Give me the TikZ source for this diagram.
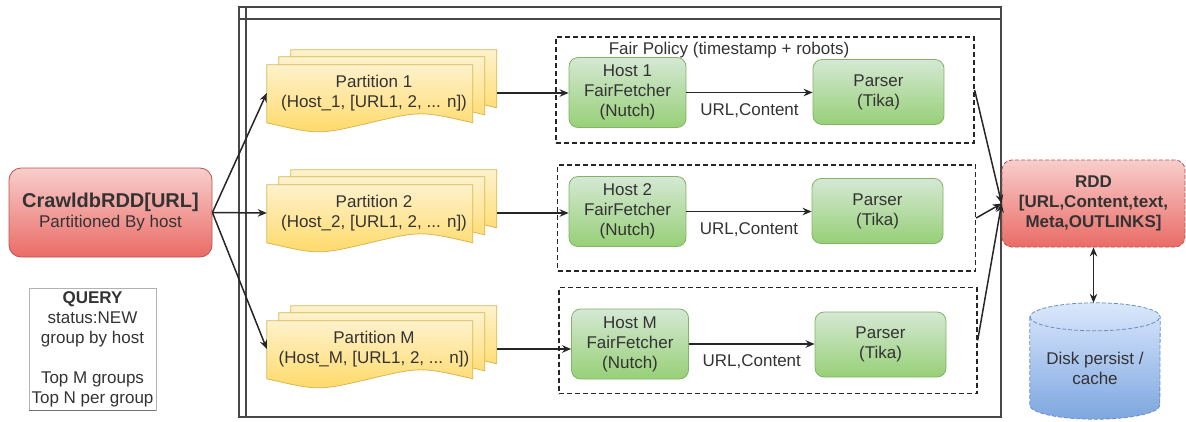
\documentclass[tikz,border=0pt]{standalone}
\usepackage{fontspec}
\setmainfont{Liberation Sans}
\usetikzlibrary{arrows.meta,backgrounds}

\definecolor{redtop}{HTML}{F8CECC}
\definecolor{redbot}{HTML}{EA6B66}
\definecolor{redline}{HTML}{B85450}
\definecolor{yeltop}{HTML}{FFF2CC}
\definecolor{yelbot}{HTML}{FFD966}
\definecolor{yelline}{HTML}{D6B656}
\definecolor{grntop}{HTML}{D5E8D4}
\definecolor{grnbot}{HTML}{97D077}
\definecolor{grnline}{HTML}{82B366}
\definecolor{blutop}{HTML}{DAE8FC}
\definecolor{blubot}{HTML}{7EA6E0}
\definecolor{bluline}{HTML}{6C8EBF}
\definecolor{ink}{HTML}{262626}
\definecolor{txt}{HTML}{333333}

\tikzset{
  every node/.style={font=\fontsize{17}{20}\selectfont, align=center, inner sep=0pt, text=txt},
  frame/.style={draw=ink!85, line width=1.3pt},
  redbox/.style={draw=redline, top color=redtop, bottom color=redbot, line width=0.8pt},
  hostbox/.style={draw=grnline, top color=grntop, bottom color=grnbot, line width=0.8pt,
    rounded corners=9pt, minimum width=117pt, minimum height=70pt},
  parserbox/.style={draw=grnline, top color=grntop, bottom color=grnbot, line width=0.8pt,
    rounded corners=9pt, minimum width=131pt, minimum height=65pt},
  policy/.style={draw=ink, dash pattern=on 5pt off 3pt, line width=1.3pt,
    minimum width=418pt, minimum height=106pt},
  partnode/.style={minimum width=206pt, minimum height=56pt},
  docfill/.style={draw=yelline, top color=yeltop, bottom color=yelbot, line width=0.8pt},
  diskfill/.style={top color=blutop, bottom color=blubot, draw=bluline,
    dash pattern=on 4pt off 2pt, line width=0.8pt},
  diskline/.style={draw=bluline, dash pattern=on 4pt off 2pt, line width=0.8pt},
  link/.style={draw=ink, line width=1.5pt, ->},
  flowlabel/.style={below=10pt},
  pics/docpage/.style={code={
    \path[docfill] (0,0) -- (206,0) -- (206,58)
      .. controls (154,46) .. (103,58)
      .. controls (52,70) .. (0,58) -- cycle;
  }},
}

\begin{document}
\begin{tikzpicture}[x=1pt, y=-1pt, >={Stealth[length=9pt,width=7.5pt]}]
\useasboundingbox (0,0) rectangle (1186,421);

% container frame with its header strips
\draw[frame] (239,7) rectangle (1001,417);
\draw[frame] (246,7) -- (246,417);
\draw[frame] (239,19) -- (1001,19);

% source RDD and query note
\node[redbox, rounded corners=12pt, minimum width=203pt, minimum height=89pt] (crawl) at (110.5,212.5)
  {{\fontsize{20}{22}\selectfont\bfseries CrawldbRDD[URL]}\\Partitioned By host};
\node[draw=black!30, line width=0.6pt, minimum width=127pt, minimum height=122pt] (query) at (92.5,349)
  {{\bfseries QUERY}\\status:NEW\\group by host\\[20pt]Top M groups\\Top N per group};
\draw[black!55, line width=0.8pt] (query.south west) -- (query.south east);

% partitions (stacked pages)
\node[partnode] (p1) at (370,93) {\hspace*{8pt}Partition 1\\\hspace*{8pt}(Host\_1, [URL1, 2, ... n])};
\node[partnode] (p2) at (370,213) {\hspace*{8pt}Partition 2\\\hspace*{8pt}(Host\_2, [URL1, 2, ... n])};
\node[partnode] (pM) at (370,349) {\hspace*{8pt}Partition M\\\hspace*{8pt}(Host\_M, [URL1, 2, ... n])};
\begin{scope}[on background layer]
  \foreach \p in {p1,p2,pM}{
    \pic at ([xshift=24pt,yshift=15pt]\p.north west) {docpage};
    \pic at ([xshift=12pt,yshift=8pt]\p.north west) {docpage};
    \pic at (\p.north west) {docpage};
  }
\end{scope}

% fair policy groups
\node[policy] (g1) at (765,90) {};
\node[policy] (g2) at (766.5,218) {};
\node[policy] (gM) at (768,340.5) {};
\node (fp) at (729,50) {Fair Policy (timestamp + robots)};

% fetchers and parsers
\node[hostbox] (h1) at (627.5,92.5) {Host 1\\FairFetcher\\(Nutch)};
\node[parserbox] (s1) at (878.5,92) {Parser\\(Tika)};
\node[hostbox] (h2) at (627.5,211.5) {Host 2\\FairFetcher\\(Nutch)};
\node[parserbox] (s2) at (877.5,211) {Parser\\(Tika)};
\node[hostbox] (hM) at (630,344) {Host M\\FairFetcher\\(Nutch)};
\node[parserbox] (sM) at (880.5,344.5) {Parser\\(Tika)};

% result RDD and storage
\node[redbox, rounded corners=10pt, dash pattern=on 4pt off 2pt, minimum width=183pt, minimum height=87pt,
  font=\fontsize{17}{20}\selectfont\bfseries] (rdd) at (1093.5,203.5)
  {RDD\\{}[URL,Content,text,\\Meta,OUTLINKS]};
\node[minimum width=130pt, minimum height=102pt] (disk) at (1095,368) {Disk persist /\\cache};
\begin{scope}[on background layer]
  \path[diskfill] (disk.north west) -- ([yshift=14pt]disk.south west)
    arc[start angle=180, end angle=360, x radius=65pt, y radius=14pt]
    -- (disk.north east)
    arc[start angle=0, end angle=180, x radius=65pt, y radius=14pt] -- cycle;
  \draw[diskline] (disk.north west) arc[start angle=180, end angle=360, x radius=65pt, y radius=14pt];
\end{scope}
\coordinate (disktop) at ([yshift=14pt]disk.north);

% connectors
\draw[link] (crawl.east) -- (p1.west);
\draw[link] (crawl.east) -- (p2.west);
\draw[link] (crawl.east) -- (pM.west);

\coordinate (p1out) at ([xshift=24pt]p1.east);
\coordinate (p2out) at ([xshift=24pt]p2.east);
\coordinate (pMout) at ([xshift=24pt]pM.east);
\draw[link] (p1out) -- (p1out -| h1.west);
\draw[link] (p2out) -- (p2out -| h2.west);
\draw[link] (pMout) -- (pMout -| hM.west);

\draw[link] (h1.east) -- (h1.east -| s1.west) node[midway, flowlabel] {URL,Content};
\draw[link] (h2.east) -- (h2.east -| s2.west) node[midway, flowlabel] {URL,Content};
\draw[link] (hM.east) -- (hM.east -| sM.west) node[midway, flowlabel] {URL,Content};

\draw[link] (g1.east) -- (rdd.west);
\draw[link] (g2.east) -- (rdd.west);
\draw[link] (gM.east) -- (rdd.west);

\draw[link, <->] (rdd.south) -- (rdd.south |- disktop);
\end{tikzpicture}
\end{document}
